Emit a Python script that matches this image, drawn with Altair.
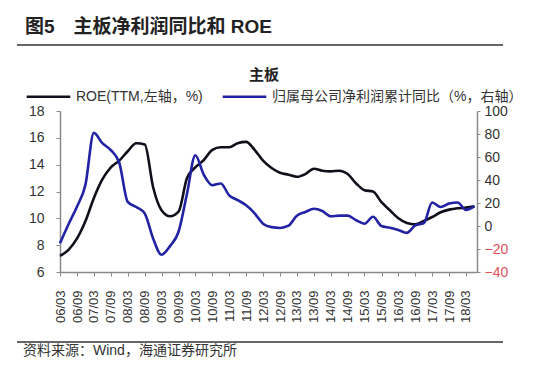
import altair as alt
import pandas as pd

# quarterly dates 2006-03 .. 2018-06
dates = [f"{y}-{m:02d}-01" for y in range(2006, 2019) for m in (3, 6, 9, 12)][:50]

roe = [7.2, 7.65, 8.5, 9.8, 11.5, 12.9, 13.8, 14.3, 15.0, 15.6,
       15.5, 12.3, 10.6, 10.15, 10.5, 13.0, 13.8, 14.35, 15.1, 15.3,
       15.3, 15.6, 15.7, 15.1, 14.3, 13.75, 13.4, 13.25, 13.1, 13.3,
       13.7, 13.55, 13.5, 13.55, 13.3, 12.6, 12.1, 12.0, 11.2, 10.6,
       10.0, 9.65, 9.55, 9.8, 10.1, 10.45, 10.65, 10.75, 10.8, 10.9]

profit = [-15, 1.5, 17, 36, 81, 72, 66, 55, 21, 16.5,
          10.8, -11, -25, -17.5, -5, 28, 61.5, 44.5, 35.5, 37,
          26.7, 22.5, 18, 11, 2, -1, -1.7, 0.3, 9, 12.2,
          15, 13, 8.5, 9, 9, 5, 2, 8, 0, -1.5,
          -3.5, -6, 0.6, 2.5, 20.5, 16.5, 19.5, 20.5, 14, 17]

series_names = ["ROE(TTM,左轴，%)", "归属母公司净利润累计同比（%，右轴）"]
series_colors = ["#10101c", "#2222a4"]

tick_dates = [(y, m) for y in range(2006, 2019) for m in (3, 9)][:25]
left_ticks = [6, 8, 10, 12, 14, 16, 18]
right_ticks = [-40, -20, 0, 20, 40, 60, 80, 100]

main_title = "图5\u3000主板净利润同比和 ROE"
chart_title = "主板"
source_text = "资料来源：Wind，海通证券研究所"

df = pd.DataFrame({
    "date": dates * 2,
    "series": [series_names[0]] * len(dates) + [series_names[1]] * len(dates),
    "value": roe + profit,
})

FONT = "Liberation Sans, Noto Sans CJK SC"
W, H = 417, 161

x_enc = alt.X(
    "date:T",
    scale=alt.Scale(type="utc",
                    domain=[alt.DateTime(year=2006, month=3, date=1, utc=True),
                            alt.DateTime(year=2018, month=6, date=28, utc=True)]),
    axis=alt.Axis(
        values=[alt.DateTime(year=y, month=m, date=1, utc=True) for y, m in tick_dates],
        format="%y/%m", labelAngle=270, title=None, grid=False,
        labelFontSize=13, labelColor="#333333", labelFont=FONT,
        domainColor="#8a8a8a", domainWidth=1.5, tickColor="#8a8a8a",
        tickSize=4, labelPadding=14, labelOverlap=False,
    ),
)

color_enc = alt.Color(
    "series:N",
    scale=alt.Scale(domain=series_names, range=series_colors),
    legend=alt.Legend(
        orient="none", legendX=-35, legendY=-38, direction="horizontal",
        title=None, labelFontSize=14, labelFont=FONT, labelColor="#333333",
        labelLimit=400, symbolType="stroke", symbolSize=1900,
        symbolStrokeWidth=2.5, columnPadding=14, labelOffset=4, padding=0,
    ),
)

base = alt.Chart(df)

roe_line = base.transform_filter(
    alt.datum.series == series_names[0]
).mark_line(interpolate="monotone", strokeWidth=2.6).encode(
    x=x_enc,
    y=alt.Y("value:Q",
            scale=alt.Scale(domain=[6, 18], nice=False, zero=False),
            axis=alt.Axis(orient="left", values=left_ticks, title=None, grid=False,
                          labelFontSize=14, labelColor="#333333", labelFont=FONT,
                          domainColor="#8a8a8a", domainWidth=1.5, tickColor="#8a8a8a",
                          tickSize=4, labelPadding=12)),
    color=color_enc,
)

profit_line = base.transform_filter(
    alt.datum.series == series_names[1]
).mark_line(interpolate="monotone", strokeWidth=2.6).encode(
    x=x_enc,
    y=alt.Y("value:Q",
            scale=alt.Scale(domain=[-40, 100], nice=False, zero=False),
            axis=alt.Axis(orient="right", values=right_ticks, title=None, grid=False,
                          labelFontSize=14, labelFont=FONT,
                          labelColor={"condition": {"test": "datum.value < 0", "value": "#e0505a"},
                                      "value": "#333333"},
                          domainColor="#8a8a8a", domainWidth=1.5, tickColor="#8a8a8a",
                          tickSize=3, labelPadding=4)),
    color=color_enc,
)

title_txt = alt.Chart(pd.DataFrame({"t": [main_title]})).mark_text(
    align="left", baseline="middle", fontSize=19, fontWeight="bold",
    font=FONT, color="#222222"
).encode(text="t:N", x=alt.value(-35), y=alt.value(-84))

sub_txt = alt.Chart(pd.DataFrame({"t": [chart_title]})).mark_text(
    align="center", baseline="middle", fontSize=15, fontWeight="bold",
    font=FONT, color="#222222"
).encode(text="t:N", x=alt.value(204), y=alt.value(-36))

src_txt = alt.Chart(pd.DataFrame({"t": [source_text]})).mark_text(
    align="left", baseline="middle", fontSize=14,
    font=FONT, color="#333333"
).encode(text="t:N", x=alt.value(-37), y=alt.value(240))

top_rule = alt.Chart(pd.DataFrame({"t": [0]})).mark_rule(
    color="#666666", strokeWidth=2
).encode(x=alt.value(-43), x2=alt.value(443), y=alt.value(-66))

bottom_rule = alt.Chart(pd.DataFrame({"t": [0]})).mark_rule(
    color="#666666", strokeWidth=2
).encode(x=alt.value(-43), x2=alt.value(443), y=alt.value(231))

chart = alt.layer(
    roe_line, profit_line, title_txt, sub_txt, src_txt, top_rule, bottom_rule
).resolve_scale(y="independent").properties(
    width=W, height=H,
    autosize=alt.AutoSizeParams(type="none"),
    padding={"left": 60, "top": 111, "right": 73, "bottom": 106},
    background="white",
).configure_view(strokeWidth=0)

chart.save("out.html", embed_options={"renderer": "svg", "actions": False})
